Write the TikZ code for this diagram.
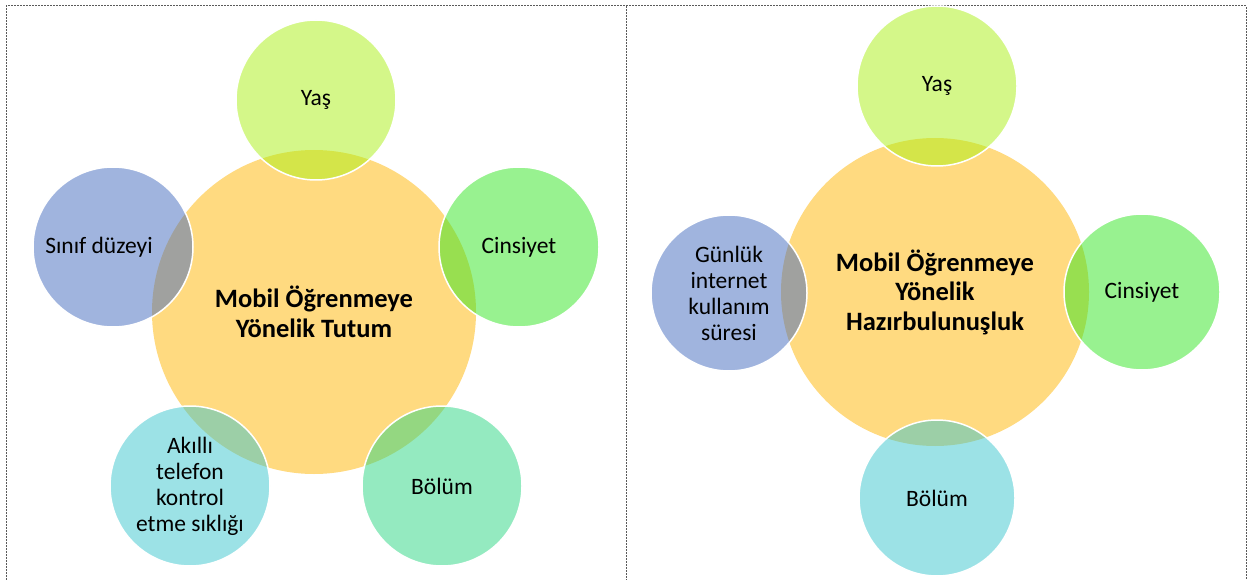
\documentclass[tikz,border=0pt]{standalone}
\usepackage{fontspec}
\setmainfont{Carlito}
\definecolor{merkez}{RGB}{255,218,128}
\definecolor{acikyesil}{RGB}{170,240,20}
\definecolor{yesil}{RGB}{50,229,34}
\definecolor{camgobegi}{RGB}{42,213,130}
\definecolor{turkuaz}{RGB}{58,198,206}
\definecolor{mavi}{RGB}{66,106,190}
\definecolor{cerceverengi}{RGB}{90,90,90}
\tikzset{
    ana/.style={circle, fill=merkez, inner sep=0pt, align=center,
        font=\fontsize{26.5}{29.5}\selectfont\bfseries},
    uydu/.style={circle, draw=white, line width=1.5pt, fill opacity=0.5, text opacity=1,
        minimum size=160pt, inner sep=0pt, align=center,
        font=\fontsize{23.5}{26}\selectfont},
    cerceve/.style={line width=1pt, cerceverengi, dash pattern=on 2pt off 1pt}
}
\begin{document}
\begin{tikzpicture}[x=1pt, y=-1pt]
        \useasboundingbox (0,0) rectangle (1255,580);
        \draw[cerceve] (6,580) -- (6,6) -- (1246,6) -- (1246,580);
        \draw[cerceve] (626,6) -- (626,580);

        \node[ana, minimum size=324pt] (tutum) at (314,312) {Mobil Öğrenmeye\\Yönelik Tutum};
        \node[uydu, fill=acikyesil] (yas1) at (316,100) {Yaş};
        \node[uydu, fill=yesil] (cinsiyet1) at (519,247) {Cinsiyet};
        \node[uydu, fill=camgobegi] (bolum1) at (442,486) {Bölüm};
        \node[uydu, fill=turkuaz] (akilli) at (190,486) {Akıllı\\telefon\\kontrol\\etme sıklığı};
        \node[uydu, fill=mavi] (sinif) at (113,247) {};
        \node[text opacity=1, font=\fontsize{23.5}{26}\selectfont] (sinifyazi) at (99,247) {Sınıf düzeyi};

        \node[ana, minimum size=308pt] (hazir) at (935,292) {Mobil Öğrenmeye\\Yönelik\\Hazırbulunuşluk};
        \node[uydu, fill=acikyesil] (yas2) at (937,86) {Yaş};
        \node[uydu, fill=yesil, minimum size=156pt] (cinsiyet2) at (1142,292) {Cinsiyet};
        \node[uydu, fill=turkuaz, minimum size=156pt] (bolum2) at (937,498) {Bölüm};
        \node[uydu, fill=mavi, minimum size=156pt] (gunluk) at (729,293) {Günlük\\internet\\kullanım\\süresi};
\end{tikzpicture}
\end{document}
